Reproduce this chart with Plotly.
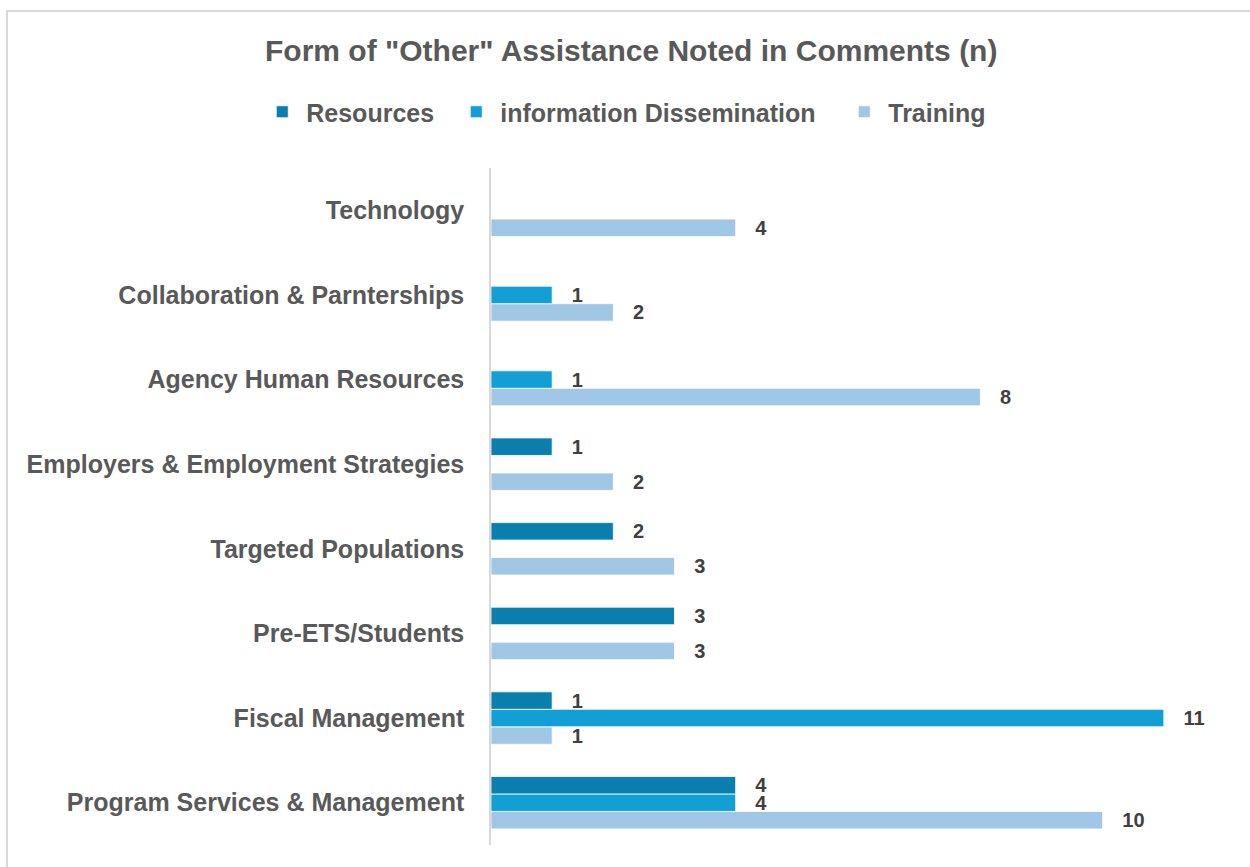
import plotly.graph_objects as go

# Category order runs bottom-to-top on the y axis
categories = [
    "Program Services & Management",
    "Fiscal Management",
    "Pre-ETS/Students",
    "Targeted Populations",
    "Employers & Employment Strategies",
    "Agency Human Resources",
    "Collaboration & Parnterships",
    "Technology",
]
resources = [4, 1, 3, 2, 1, None, None, None]
information = [4, 11, None, None, None, 1, 1, None]
training = [10, 1, 3, 3, 2, 8, 2, 4]

# name, values, colour, legend entry width (px)
series = [
    ("Training", training, "#a1c7e7", 102),
    ("information Dissemination", information, "#119fd6", 335),
    ("Resources", resources, "#0a7fae", 141),
]

FONT = "Liberation Sans"
GRAY = "#595959"

fig = go.Figure()
for name, vals, color, lw in series:
    fig.add_trace(go.Bar(
        y=categories,
        x=vals,
        name=name,
        orientation="h",
        legendwidth=lw,
        marker=dict(color=color, line=dict(color="white", width=0.8)),
        text=vals,
        texttemplate="   %{x}",
        textposition="outside",
        constraintext="none",
        textfont=dict(family=FONT, size=20, color="#404040", weight="bold"),
        cliponaxis=False,
    ))

# plot area in pixels
L, R, T, B = 491, 25, 168, 22
W, H = 1250, 867
pw, ph = W - L - R, H - T - B

def px_x(px):
    return (px - L) / pw

def px_y(py):
    return (H - B - py) / ph

fig.update_layout(
    width=W,
    height=H,
    margin=dict(l=L, r=R, t=T, b=B),
    paper_bgcolor="white",
    plot_bgcolor="white",
    barmode="group",
    bargap=0.38,
    bargroupgap=0,
    title=dict(
        text='Form of "Other" Assistance Noted in Comments (n)',
        font=dict(family=FONT, size=30, color=GRAY, weight="bold"),
        x=0.505, xref="container", xanchor="center",
        y=1 - 50 / H, yref="container", yanchor="middle",
    ),
    legend=dict(
        orientation="h",
        traceorder="reversed",
        itemwidth=38,
        x=0.5014, xref="container", xanchor="center",
        y=1 - 112 / H, yref="container", yanchor="middle",
        font=dict(family=FONT, size=25, color=GRAY, weight="bold"),
        itemclick=False,
    ),
    xaxis=dict(
        range=[0, 12],
        showgrid=False,
        showticklabels=False,
        zeroline=False,
        showline=False,
        fixedrange=True,
    ),
    yaxis=dict(
        type="category",
        showgrid=False,
        showline=True,
        linecolor="#d9d9d9",
        linewidth=1.5,
        ticks="",
        ticklabelstandoff=20,
        tickfont=dict(family=FONT, size=25, color=GRAY, weight="bold"),
        fixedrange=True,
    ),
    shapes=[dict(
        type="rect",
        xref="paper", yref="paper",
        x0=px_x(7), x1=px_x(1270),
        y0=px_y(890), y1=px_y(11),
        line=dict(color="#d9d9d9", width=2),
        fillcolor="rgba(0,0,0,0)",
        layer="below",
    )],
)

fig.write_html("out.html")
